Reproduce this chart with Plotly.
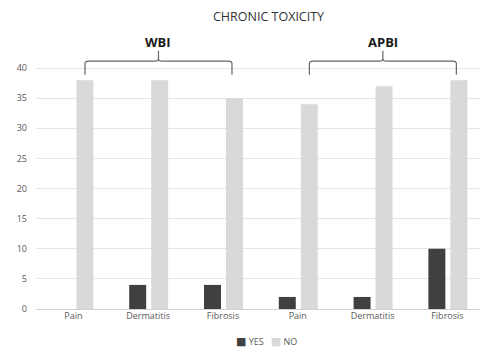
import plotly.graph_objects as go

categories = ["Pain", "Dermatitis", "Fibrosis", "Pain", "Dermatitis", "Fibrosis"]
groups = ["WBI", "APBI"]
yes_values = [0, 4, 4, 2, 2, 10]
no_values = [38, 38, 35, 34, 37, 38]
series_names = ["YES", "NO"]
y_ticks = [0, 5, 10, 15, 20, 25, 30, 35, 40]

YES_COLOR = "#404040"
NO_COLOR = "#d9d9d9"
FONT = "Open Sans, DejaVu Sans, sans-serif"

W, H = 480, 353
ML, MR, MT, MB = 36, 0, 44, 44
PW, PH = W - ML - MR, H - MT - MB


def px_to_paper_x(px):
    return (px - ML) / PW


def px_to_paper_y(py):
    return (H - MB - py) / PH


x_pos = list(range(len(categories)))
bar_w = 0.227

fig = go.Figure()
fig.add_trace(go.Bar(x=x_pos, y=yes_values, width=bar_w, offset=-0.254,
                     marker=dict(color=YES_COLOR, line=dict(width=0)),
                     showlegend=False, name=series_names[0]))
fig.add_trace(go.Bar(x=x_pos, y=no_values, width=bar_w, offset=0.04,
                     marker=dict(color=NO_COLOR, line=dict(width=0)),
                     showlegend=False, name=series_names[1]))

# group brackets
shapes = []
annotations = []
for gi, g in enumerate(groups):
    center = gi * 3 + 1
    x0, x1 = center - 0.845, center + 1.12
    xc = (x0 + x1) / 2
    yh, ye, yt = 41.15, 38.9, 42.9
    shapes.append(dict(type="path", xref="x", yref="y",
                       path=f"M {x0},{ye} L {x0},{yh - 0.4} Q {x0},{yh} {x0 + 0.05},{yh} "
                            f"L {xc - 0.05},{yh} Q {xc},{yh} {xc},{yh + 0.4} L {xc},{yt} "
                            f"M {xc},{yh + 0.4} Q {xc},{yh} {xc + 0.05},{yh} "
                            f"L {x1 - 0.05},{yh} Q {x1},{yh} {x1},{yh - 0.4} L {x1},{ye}",
                       line=dict(color="#666666", width=1.2)))
    annotations.append(dict(x=xc, y=px_to_paper_y(42), xref="x", yref="paper",
                            text=f"<b>{g}</b>", showarrow=False,
                            font=dict(size=13, color="#1a1a1a", family=FONT),
                            xanchor="center", yanchor="middle"))

annotations.append(dict(x=px_to_paper_x(268), y=px_to_paper_y(16), xref="paper", yref="paper",
                        text="CHRONIC TOXICITY", showarrow=False,
                        font=dict(size=12.5, color="#333333", family=FONT),
                        xanchor="center", yanchor="middle"))

# compact legend (text with coloured square glyphs)
legend_text = "&nbsp;&nbsp;&nbsp;".join(
    f"<span style='color:{c};font-size:11px'>■</span>&nbsp;{n}"
    for n, c in zip(series_names, [YES_COLOR, NO_COLOR]))
annotations.append(dict(x=px_to_paper_x(266), y=px_to_paper_y(340), xref="paper", yref="paper",
                        text=legend_text, showarrow=False,
                        font=dict(size=9, color="#595959", family=FONT),
                        xanchor="center", yanchor="middle"))

fig.update_layout(
    width=W, height=H,
    margin=dict(l=ML, r=MR, t=MT, b=MB, autoexpand=False),
    paper_bgcolor="white", plot_bgcolor="white",
    font=dict(family=FONT, size=9, color="#595959"),
    shapes=shapes, annotations=annotations,
    showlegend=False,
    xaxis=dict(range=[-0.5, 5.436], tickmode="array", tickvals=x_pos, ticktext=categories,
               showgrid=False, zeroline=False, showline=False, ticks="",
               tickfont=dict(size=9, color="#595959")),
    yaxis=dict(range=[0, 44], tickmode="array", tickvals=y_ticks,
               showgrid=True, gridcolor="#e4e4e4", gridwidth=1,
               zeroline=True, zerolinecolor="#d0d0d0", zerolinewidth=1,
               showline=False, ticks="", ticklabelstandoff=8,
               tickfont=dict(size=9, color="#595959")),
)

fig.write_html("out.html", config={"displayModeBar": False},
               post_script="document.body.style.margin='0';document.body.style.overflow='hidden';")
